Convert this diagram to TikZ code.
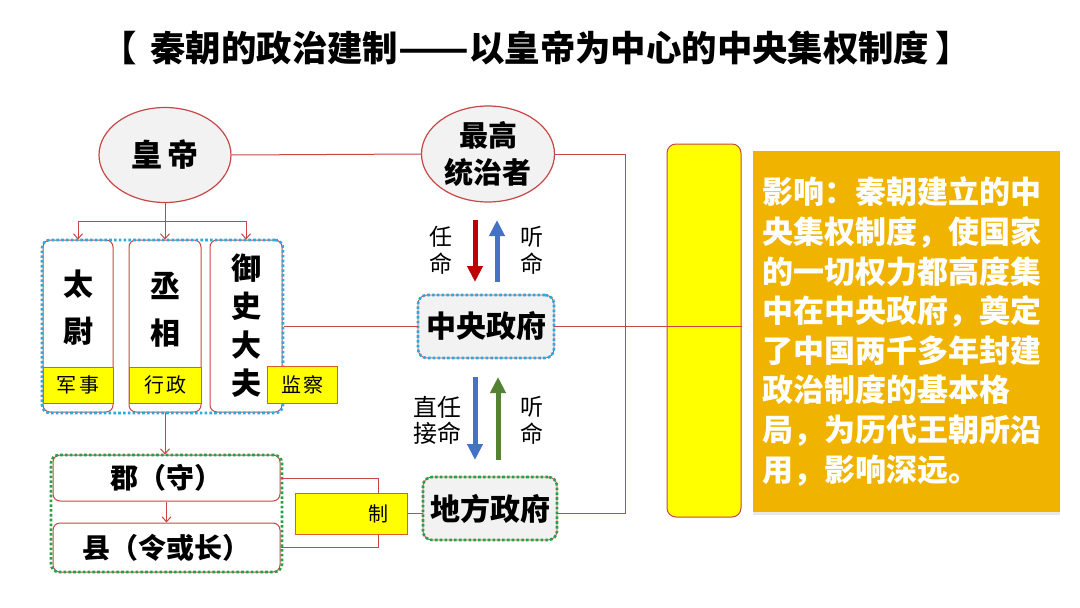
\documentclass[tikz,border=0pt]{standalone}
\usepackage{fontspec}
\setmainfont{Noto Sans CJK SC}
\usetikzlibrary{arrows.meta,shapes.geometric,shadows}
\definecolor{lred}{RGB}{200,70,70}
\definecolor{dred}{RGB}{192,0,0}
\definecolor{lgray}{RGB}{242,242,242}
\definecolor{dblue}{RGB}{41,171,226}
\definecolor{dgreen}{RGB}{40,160,70}
\definecolor{aBlue}{RGB}{68,114,196}
\definecolor{aGreen}{RGB}{84,130,53}
\definecolor{gold}{RGB}{240,180,0}
\definecolor{ylab}{RGB}{255,255,0}
\definecolor{yborder}{RGB}{230,90,40}
\tikzset{
  rl/.style={draw=lred, line width=1pt},
  ra/.style={draw=lred, line width=1pt, -{Straight Barb[length=5pt,width=9pt]}},
  ell/.style={ellipse, draw=lred, line width=1.2pt, fill=lgray, inner sep=0pt},
  rbox/.style={rectangle, rounded corners=7pt, draw=lred, line width=1pt, fill=white, inner sep=0pt},
  ylabel/.style={rectangle, draw=yborder, line width=1pt, fill=ylab, inner sep=0pt, font=\fontsize{20}{24}\selectfont},
  bdots/.style={draw=dblue, line width=2.6pt, dash pattern=on 2.6pt off 2.2pt},
  gdots/.style={draw=dgreen, line width=2.6pt, dash pattern=on 2.6pt off 2.2pt},
  grpbox/.style={rectangle, rounded corners=8pt, inner sep=0pt},
  govbox/.style={rectangle, rounded corners=9pt, draw=lred, line width=0.8pt, fill=lgray, inner sep=0pt, font=\bfseries\fontsize{30}{34}\selectfont},
  vtext/.style={align=center, inner sep=0pt, font=\bfseries\fontsize{30}{47}\selectfont},
  alab/.style={align=center, inner sep=0pt, font=\fontsize{23}{27}\selectfont},
  fat/.style={line width=5pt, -{Triangle[width=15pt,length=16pt]}},
}
\begin{document}
\begin{tikzpicture}[x=1pt,y=-1pt]
\useasboundingbox (0,0) rectangle (1080,608);
\fill[white] (0,0) rectangle (1080,608);

% title
\node[font=\bfseries\fontsize{35.4}{40}\selectfont, inner sep=0pt] (title) at (540,48) {\makebox[35.4pt][l]{\hspace{-14pt}【}秦朝的政治建制\resizebox{70.8pt}{\height}{——}以皇帝为中心的中央集权制度\makebox[35.4pt][l]{\hspace{6pt}】}};

% ellipses
\node[ell, minimum width=132pt, minimum height=95pt, font=\bfseries\fontsize{31}{36}\selectfont] (hd) at (165,155) {皇\hspace{6pt}帝};
\node[ell, minimum width=133pt, minimum height=96pt, align=center, font=\bfseries\fontsize{29}{37}\selectfont] (zg) at (488,154) {最高\\统治者};

% central officials
\node[rbox, minimum width=70pt, minimum height=172pt] (tw) at (78,326) {};
\node[rbox, minimum width=72pt, minimum height=172pt] (cx) at (165,326) {};
\node[rbox, minimum width=72pt, minimum height=172pt] (ys) at (246,326) {};
\node[grpbox, bdots, minimum width=241pt, minimum height=173pt] (g1) at (162.5,326.5) {};
\node[vtext] (twt) at (78,308) {太\\尉};
\node[vtext] (cxt) at (165,310) {丞\\相};
\node[vtext, font=\bfseries\fontsize{30}{38.5}\selectfont] (yst) at (246,325.5) {御\\史\\大\\夫};
\node[ylabel, minimum width=70pt, minimum height=36pt] (l1) at (78,385) {军\hspace{3pt}事};
\node[ylabel, minimum width=72pt, minimum height=36pt] (l2) at (165,385) {行\hspace{2pt}政};
\node[ylabel, minimum width=70pt, minimum height=37pt] (l3) at (302,384.5) {监\hspace{2pt}察};

% emperor to officials
\coordinate (bar) at (165,221);
\draw[rl] (tw.north |- bar) -- (ys.north |- bar);
\draw[ra] (hd.south) -- (cx.north);
\draw[ra] (tw.north |- bar) -- (tw.north);
\draw[ra] (ys.north |- bar) -- (ys.north);

% local
\node[rbox, minimum width=227pt, minimum height=46pt, font=\bfseries\fontsize{28}{32}\selectfont] (jun) at (166.5,478) {郡（守）};
\node[rbox, minimum width=227pt, minimum height=49pt, font=\bfseries\fontsize{28}{32}\selectfont] (xian) at (166.5,547.5) {县（令或长）};
\node[grpbox, gdots, minimum width=231pt, minimum height=117pt] (g2) at (166.5,513.5) {};
\draw[ra] (cx.south) -- (cx.south |- jun.north);
\draw[ra] (jun.south) -- (xian.north);

% 制
\node[ylabel, minimum width=112pt, minimum height=41pt, text width=74pt, inner xsep=19pt, align=right] (zhi) at (351,513.5) {制};
\draw[rl] (jun.east) -| ([xshift=27pt]zhi.north);
\draw[rl] (xian.east) -| ([xshift=27pt]zhi.south);

% government boxes
\node[govbox, minimum width=136pt, minimum height=63pt, postaction={bdots}] (zy) at (486,326.5) {中央政府};
\node[govbox, minimum width=134pt, minimum height=63pt, postaction={gdots}] (df) at (490,508.5) {地方政府};
\draw[rl] (zhi.east) -- (zhi.east -| df.west);

% column and influence box
\node[rectangle, rounded corners=9pt, draw=lred, line width=1pt, fill=ylab, minimum width=74pt, minimum height=373pt] (col) at (704,330.5) {};
\node[rectangle, fill=gold, minimum width=307pt, minimum height=361pt, inner sep=0pt,
      drop shadow={opacity=0.18, shadow xshift=0pt, shadow yshift=-3pt}] (gb) at (906.5,331.5) {};
\node[anchor=west, inner sep=0pt, text=white, align=left, font=\bfseries\fontsize{31}{39.6}\selectfont] (gbt) at (762,331.5)
 {影响：秦朝建立的中\\央集权制度，使国家\\的一切权力都高度集\\中在中央政府，奠定\\了中国两千多年封建\\政治制度的基本格\\局，为历代王朝所沿\\用，影响深远。};

% connectors
\draw[rl] (hd.east) -- (zg.west);
\coordinate (rc) at (625,154);
\draw[rl] (zg.east) -- (rc) |- ([yshift=-5pt]df.east);
\draw[rl] (g1.east |- zy.west) -- (zy.west);
\draw[rl] (zy.east) -- (zy.east -| col.east);

% arrows between levels
\coordinate (a1s) at (475,220); \coordinate (a1e) at (475,282);
\coordinate (a2s) at (497,282); \coordinate (a2e) at (497,220);
\coordinate (a3s) at (475,377); \coordinate (a3e) at (475,460);
\coordinate (a4s) at (498,460); \coordinate (a4e) at (498,377);
\draw[fat, draw=dred, color=dred] (a1s) -- (a1e);
\draw[fat, draw=aBlue, color=aBlue] (a2s) -- (a2e);
\draw[fat, draw=aBlue, color=aBlue] (a3s) -- (a3e);
\draw[fat, draw=aGreen, color=aGreen] (a4s) -- (a4e);
\node[alab] (t1) at (441,250) {任\\命};
\node[alab] (t2) at (532,250) {听\\命};
\node[alab, font=\fontsize{24}{26}\selectfont] (t3) at (437,420) {直任\\接命};
\node[alab] (t4) at (532,420) {听\\命};
\end{tikzpicture}
\end{document}
